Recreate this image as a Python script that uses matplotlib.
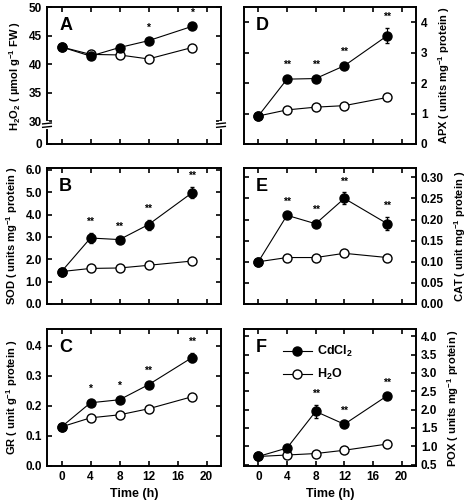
import numpy as np
import matplotlib
matplotlib.use("Agg")
import matplotlib.pyplot as plt
from matplotlib.lines import Line2D

plt.rcParams['font.family'] = ['Liberation Sans', 'DejaVu Sans']
plt.rcParams['font.weight'] = 'bold'
plt.rcParams['axes.labelweight'] = 'bold'
plt.rcParams['mathtext.fontset'] = 'custom'
plt.rcParams['mathtext.bf'] = 'Liberation Sans:bold'
plt.rcParams['mathtext.rm'] = 'Liberation Sans:bold'
plt.rcParams['mathtext.default'] = 'bf'

time = [0, 4, 8, 12, 18]

# A - H2O2
h2o2_cd = [43.0, 41.4, 42.9, 44.1, 46.6]
h2o2_cd_err = [0, 0, 0, 0.3, 0.4]
h2o2_w = [43.0, 41.7, 41.6, 40.9, 42.9]
h2o2_stars = ['', '', '', '*', '*']

# B - SOD
sod_cd = [1.45, 2.95, 2.88, 3.55, 4.97]
sod_cd_err = [0, 0.22, 0.08, 0.22, 0.25]
sod_w = [1.45, 1.59, 1.61, 1.73, 1.92]
sod_stars = ['', '**', '**', '**', '**']

# C - GR
gr_cd = [0.13, 0.21, 0.22, 0.27, 0.36]
gr_cd_err = [0, 0.008, 0.008, 0.008, 0.016]
gr_w = [0.13, 0.16, 0.17, 0.19, 0.23]
gr_stars = ['', '*', '*', '**', '**']

# D - APX
apx_cd = [0.92, 2.13, 2.15, 2.57, 3.56]
apx_cd_err = [0, 0.1, 0.08, 0.08, 0.25]
apx_w = [0.92, 1.12, 1.21, 1.26, 1.53]
apx_stars = ['', '**', '**', '**', '**']

# E - CAT
cat_cd = [0.10, 0.21, 0.19, 0.25, 0.19]
cat_cd_err = [0, 0.006, 0.006, 0.014, 0.015]
cat_w = [0.10, 0.11, 0.11, 0.12, 0.11]
cat_stars = ['', '**', '**', '**', '**']

# F - POX
pox_cd = [0.72, 0.95, 1.95, 1.60, 2.38]
pox_cd_err = [0, 0.05, 0.18, 0.05, 0.06]
pox_w = [0.72, 0.76, 0.80, 0.89, 1.06]
pox_stars = ['', '', '**', '**', '**']

fig = plt.figure(figsize=(4.69, 5.03), dpi=100)

W, H = 469.0, 503.0
def box(x0, top, x1, bottom):
    return [x0 / W, 1 - bottom / H, (x1 - x0) / W, (bottom - top) / H]

lx0, lx1 = 47, 221
rx0, rx1 = 244, 416
rows = [(7, 144), (168, 304), (329, 466)]

panels = [
    ('A', box(lx0, rows[0][0], lx1, rows[0][1]), h2o2_cd, h2o2_cd_err, h2o2_w, h2o2_stars,
     (26, 50), [26, 30, 35, 40, 45, 50], ['0', '30', '35', '40', '45', '50'],
     'H$_2$O$_2$ ( µmol g$^{-1}$ FW )', 'left'),
    ('B', box(lx0, rows[1][0], lx1, rows[1][1]), sod_cd, sod_cd_err, sod_w, sod_stars,
     (0, 6.08), np.arange(0, 6.1, 1.0), ['%.1f' % v for v in np.arange(0, 6.1, 1.0)],
     'SOD ( units mg$^{-1}$ protein )', 'left'),
    ('C', box(lx0, rows[2][0], lx1, rows[2][1]), gr_cd, gr_cd_err, gr_w, gr_stars,
     (0, 0.455), [0, 0.1, 0.2, 0.3, 0.4], ['0.0', '0.1', '0.2', '0.3', '0.4'],
     'GR ( unit g$^{-1}$ protein )', 'left'),
    ('D', box(rx0, rows[0][0], rx1, rows[0][1]), apx_cd, apx_cd_err, apx_w, apx_stars,
     (0, 4.5), [0, 1, 2, 3, 4], ['0', '1', '2', '3', '4'],
     'APX ( units mg$^{-1}$ protein )', 'right'),
    ('E', box(rx0, rows[1][0], rx1, rows[1][1]), cat_cd, cat_cd_err, cat_w, cat_stars,
     (0, 0.322), np.arange(0, 0.31, 0.05), ['%.2f' % v for v in np.arange(0, 0.31, 0.05)],
     'CAT ( unit mg$^{-1}$ protein )', 'right'),
    ('F', box(rx0, rows[2][0], rx1, rows[2][1]), pox_cd, pox_cd_err, pox_w, pox_stars,
     (0.46, 4.2), np.arange(0.5, 4.1, 0.5), ['%.1f' % v for v in np.arange(0.5, 4.1, 0.5)],
     'POX ( units mg$^{-1}$ protein )', 'right'),
]

for letter, pos, cd, cd_err, w, stars, ylim, yt, ytl, ylab, side in panels:
    ax = fig.add_axes(pos)
    ax.plot(time, w, '-o', color='black', mfc='white', mec='black', ms=6.5, lw=0.8,
            mew=1.0, zorder=3)
    ax.errorbar(time, cd, yerr=cd_err, fmt='-o', color='black', mfc='black', ms=6.5,
                lw=0.8, elinewidth=0.8, capsize=1.5, zorder=4)
    for t, v, e, s in zip(time, cd, cd_err, stars):
        if s:
            ax.annotate(s, (t, v + e), xytext=(0, 8), textcoords='offset points',
                        ha='center', va='center', fontsize=7.5, fontweight='bold',
                        annotation_clip=False)
    ax.set_xlim(-2, 22)
    ax.set_ylim(*ylim)
    ax.set_xticks([0, 4, 8, 12, 16, 20])
    ax.set_yticks(yt)
    ax.set_yticklabels(ytl)
    for sp in ax.spines.values():
        sp.set_linewidth(1.4)
    ax.tick_params(direction='in', length=3.5, width=1.2, top=True, right=True,
                   labelsize=8.5)
    for lab in ax.get_xticklabels() + ax.get_yticklabels():
        lab.set_fontweight('bold')
    if side == 'right':
        ax.tick_params(labelleft=False, labelright=True)
        ax.yaxis.set_label_position('right')
        ax.set_ylabel(ylab, fontsize=8, labelpad=6, fontweight='bold')
    else:
        ax.set_ylabel(ylab, fontsize=8, labelpad=4, fontweight='bold')
    if letter in ('C', 'F'):
        ax.set_xlabel('Time (h)', fontsize=9, labelpad=4, fontweight='bold')
    else:
        ax.tick_params(labelbottom=False)
    ax.text(0.07, 0.93, letter, transform=ax.transAxes, fontsize=13,
            fontweight='bold', ha='left', va='top')

    if letter == 'A':
        # axis break marks just below 30
        yb = 29.3
        tr = ax.get_yaxis_transform()
        for xa in (0, 1):
            ax.plot([xa, xa], [yb - 0.3, yb + 0.3], transform=tr, color='white',
                    lw=3, clip_on=False, zorder=10)
            for dy in (-0.3, 0.3):
                ax.plot([xa - 0.025, xa + 0.025], [yb + dy - 0.08, yb + dy + 0.08],
                        transform=tr, color='black', lw=1.0, clip_on=False, zorder=11)
    if letter == 'F':
        h_cd = Line2D([], [], color='black', marker='o', mfc='black', ms=6.5, lw=0.8)
        h_w = Line2D([], [], color='black', marker='o', mfc='white', ms=6.5, lw=0.8)
        leg = ax.legend([h_cd, h_w], ['CdCl$_2$', 'H$_2$O'], loc='upper left',
                        bbox_to_anchor=(0.16, 0.97), frameon=False, fontsize=9,
                        handlelength=2.3, labelspacing=0.6, handletextpad=0.4)
        for txt in leg.get_texts():
            txt.set_fontweight('bold')

fig.savefig('out.png', dpi=100)
